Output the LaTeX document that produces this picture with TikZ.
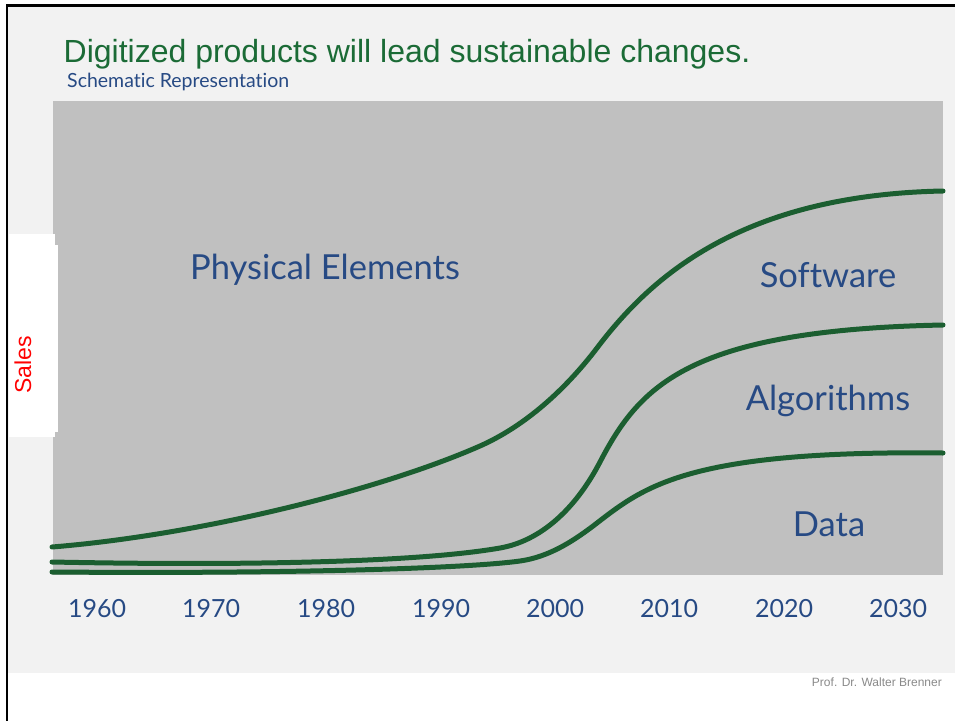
\documentclass[tikz,border=0pt]{standalone}
\usepackage{fontspec}
\setmainfont{Liberation Sans}
\newfontfamily\gillfont[Ligatures=NoCommon]{Lato}
\definecolor{bglight}{HTML}{F2F2F2}
\definecolor{plotgray}{HTML}{C0C0C0}
\definecolor{curvegreen}{HTML}{1B5E30}
\definecolor{titlegreen}{HTML}{1B6B36}
\definecolor{navy}{HTML}{274A84}
\definecolor{footgray}{HTML}{8A8A8A}
\tikzset{
  curve/.style={curvegreen, line width=5pt, line cap=round, line join=round},
  gilllabel/.style={navy, inner sep=0pt, font=\gillfont\fontsize{34.5}{40}\selectfont},
  yearlabel/.style={navy, inner sep=0pt, anchor=center, font=\gillfont\fontsize{25}{30}\selectfont},
}
\begin{document}
\begin{tikzpicture}[x=1pt,y=-1pt]
\useasboundingbox (0,0) rectangle (955,720);
\fill[white] (0,0) rectangle (955,720);
\fill[bglight] (8,6.5) rectangle (955,672.5);
\draw[black, line width=2.6pt, line cap=rect] (7,720) -- (7,5.3) -- (955,5.3);
% plot area
\fill[plotgray] (52.5,100.5) rectangle (943,575);
% sales box
\fill[white] (9,234) rectangle (55,437);
\fill[white] (54,245) rectangle (58,432);
\node[red, inner sep=0pt, rotate=90, font=\fontsize{23}{26}\selectfont] (sales) at (23,365) {Sales};
% titles
\node[titlegreen, inner sep=0pt, anchor=base west, font=\fontsize{32}{38}\selectfont] (title) at (63.5,62) {Digitized products will lead sustainable changes.};
\node[navy, inner sep=0pt, anchor=base west, font=\gillfont\fontsize{19.5}{23}\selectfont] (subtitle) at (67,87) {Schematic Representation};
% curves
\coordinate (p1s) at (52,547);  \coordinate (p1a) at (480,446); \coordinate (p1b) at (597,348); \coordinate (p1e) at (943,191);
\coordinate (p2s) at (52,562);  \coordinate (p2a) at (500,548); \coordinate (p2b) at (600,462); \coordinate (p2e) at (943,325);
\coordinate (p3s) at (52,572);  \coordinate (p3a) at (520,561); \coordinate (p3b) at (597,523); \coordinate (p3e) at (943,453);
\draw[curve] (p1s) .. controls (200,535) and (380,490) .. (p1a)
                   .. controls (525,426) and (565,390) .. (p1b)
                   .. controls (650,278) and (740,195) .. (p1e);
\draw[curve] (p2s) .. controls (250,566) and (420,562) .. (p2a)
                   .. controls (540,541) and (575,510) .. (p2b)
                   .. controls (640,385) and (690,330) .. (p2e);
\draw[curve] (p3s) .. controls (300,574) and (470,568) .. (p3a)
                   .. controls (550,556.8) and (575,540) .. (p3b)
                   .. controls (645,486) and (690,450) .. (p3e);
% labels
\node[gilllabel] (phys) at (325,270) {Physical Elements};
\node[gilllabel] (soft) at (828,275) {Software};
\node[gilllabel] (algo) at (828,401) {Algorithms};
\node[gilllabel] (data) at (829,524) {Data};
% years
\node[yearlabel] (y1960) at (97,609) {1960};
\node[yearlabel] (y1970) at (211,609) {1970};
\node[yearlabel] (y1980) at (326,609) {1980};
\node[yearlabel] (y1990) at (441,609) {1990};
\node[yearlabel] (y2000) at (555,609) {2000};
\node[yearlabel] (y2010) at (669,609) {2010};
\node[yearlabel] (y2020) at (784,609) {2020};
\node[yearlabel] (y2030) at (898,609) {2030};
% footer
\node[footgray, inner sep=0pt, anchor=base east, font=\fontsize{12}{14}\selectfont] (footer) at (942,686) {Prof. Dr. Walter Brenner};
\end{tikzpicture}
\end{document}
